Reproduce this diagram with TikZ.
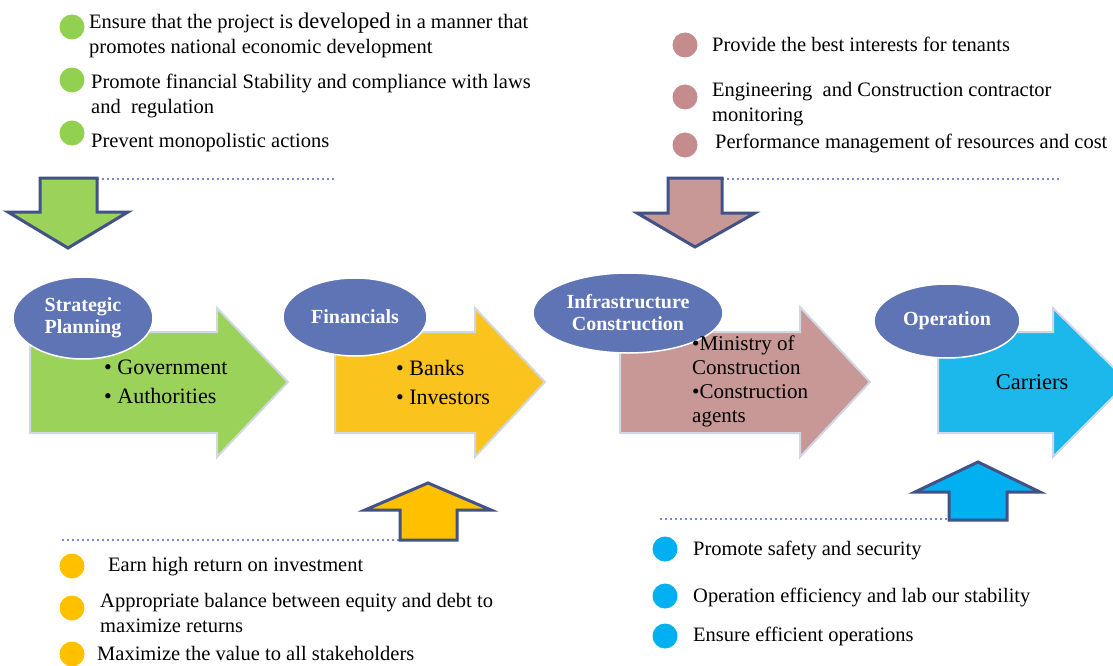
\documentclass[tikz,border=0pt]{standalone}
\usepackage{fontspec}
\setmainfont{Liberation Serif}
\usepackage{tikz}
\usetikzlibrary{shapes.geometric}

\definecolor{stageblue}{RGB}{94,116,180}
\definecolor{plangreen}{RGB}{155,210,90}
\definecolor{dotgreen}{RGB}{146,208,80}
\definecolor{finyellow}{RGB}{250,195,30}
\definecolor{dotyellow}{RGB}{255,192,0}
\definecolor{buildpink}{RGB}{200,152,150}
\definecolor{dotpink}{RGB}{196,140,140}
\definecolor{opcyan}{RGB}{28,184,236}
\definecolor{dotcyan}{RGB}{0,176,240}
\definecolor{flowedge}{RGB}{208,216,230}
\definecolor{feededge}{RGB}{66,82,134}
\definecolor{sepblue}{RGB}{116,136,214}

\tikzset{
	stage/.style={ellipse, fill=stageblue, draw=white, line width=1.5pt, text=white,
		font=\bfseries\fontsize{20}{22}\selectfont, align=center, inner sep=0pt},
	flow/.style={draw=flowedge, line width=2pt, line join=miter},
	feed/.style={draw=feededge, line width=3pt, line join=miter},
	sep/.style={sepblue, line width=2pt, dash pattern=on 2pt off 3pt},
	note/.style={anchor=west, align=left, inner sep=0pt, font=\fontsize{20.5}{25}\selectfont},
	item/.style={anchor=west, align=left, inner sep=0pt, font=\fontsize{22}{29}\selectfont},
}

\begin{document}
\begin{tikzpicture}[x=1pt, y=-1pt]
		\useasboundingbox (0,0) rectangle (1113,666);
		\clip (0,0) rectangle (1113,666);
		% Separators
		\draw[sep] (97,179) -- (336,179);
		\draw[sep] (722,179) -- (1062,179);
		\draw[sep] (62,540) -- (420,540);
		\draw[sep] (660,519) -- (995,519);
		% Main flow arrows
		\filldraw[flow, fill=plangreen] (30,332) -- (217,332) -- (217,308) -- (288,382) -- (217,457) -- (217,433) -- (30,433) -- cycle;
		\filldraw[flow, fill=finyellow] (335,332) -- (475,332) -- (475,308) -- (545,382) -- (475,457) -- (475,433) -- (335,433) -- cycle;
		\filldraw[flow, fill=buildpink] (620,332) -- (800,332) -- (800,307) -- (870,382) -- (800,457) -- (800,433) -- (620,433) -- cycle;
		\filldraw[flow, fill=opcyan] (938,332) -- (1053,332) -- (1053,308) -- (1128,382) -- (1053,457) -- (1053,433) -- (938,433) -- cycle;
		% Input arrows
		\filldraw[feed, fill=plangreen] (40,178) -- (97,178) -- (97,212) -- (128,212) -- (68,248) -- (8,212) -- (40,212) -- cycle;
		\filldraw[feed, fill=buildpink] (668,178) -- (722,178) -- (722,213) -- (755,213) -- (695,247) -- (637,213) -- (668,213) -- cycle;
		\filldraw[feed, fill=dotyellow] (400,540) -- (457,540) -- (457,510) -- (491,510) -- (428,483) -- (365,510) -- (400,510) -- cycle;
		\filldraw[feed, fill=dotcyan] (949,520) -- (1007,520) -- (1007,492) -- (1040,492) -- (978,462) -- (915,492) -- (949,492) -- cycle;
		% Stages
		\node[stage, minimum width=140pt, minimum height=82pt] (plan) at (83,318) {Strategic\\Planning};
		\node[stage, minimum width=144pt, minimum height=78pt] (fin) at (355,317) {Financials};
		\node[stage, minimum width=190pt, minimum height=80pt] (infra) at (628,313) {Infrastructure\\Construction};
		\node[stage, minimum width=146pt, minimum height=74pt] (oper) at (947,321) {Operation};
		% Actors
		\node[item] (gov) at (104,382) {\textbullet\ Government\\\textbullet\ Authorities};
		\node[item] (bank) at (396,382) {\textbullet\ Banks\\\textbullet\ Investors};
		\node[item, font=\fontsize{21}{24}\selectfont] (ministry) at (692,381) {\textbullet Ministry of\\Construction\\\textbullet Construction\\agents};
		\node[font=\fontsize{22.5}{25}\selectfont, inner sep=0pt] (carrier) at (1032,382) {Carriers};
		% Government goals
		\fill[dotgreen] (72,27) circle (12.5pt);
		\fill[dotgreen] (72,80) circle (12.5pt);
		\fill[dotgreen] (72,133) circle (12.5pt);
		\node[note] (gov1) at (89,35) {Ensure that the project is {\fontsize{22.5}{25}\selectfont developed} in a manner that\\promotes national economic development};
		\node[note] (gov2) at (91,96) {Promote financial Stability and compliance with laws\\and \ regulation};
		\node[note] (gov3) at (91,143) {Prevent monopolistic actions};
		% Construction goals
		\fill[dotpink] (685,45) circle (12.5pt);
		\fill[dotpink] (685,97) circle (12.5pt);
		\fill[dotpink] (685,145) circle (12.5pt);
		\node[note] (con1) at (712,44) {Provide the best interests for tenants};
		\node[note] (con2) at (712,104) {Engineering \ and Construction contractor\\monitoring};
		\node[note] (con3) at (715,143) {Performance management of resources and cost};
		% Investor goals
		\fill[dotyellow] (72,566) circle (12.5pt);
		\fill[dotyellow] (72,608) circle (12.5pt);
		\fill[dotyellow] (72,654) circle (12.5pt);
		\node[note] (inv1) at (108,567) {Earn high return on investment};
		\node[note] (inv2) at (100,613) {Appropriate balance between equity and debt to\\maximize returns};
		\node[note] (inv3) at (97,653) {Maximize the value to all stakeholders};
		% Carrier goals
		\fill[dotcyan] (665,549) circle (12.5pt);
		\fill[dotcyan] (665,596) circle (12.5pt);
		\fill[dotcyan] (665,636) circle (12.5pt);
		\node[note] (car1) at (693,550) {Promote safety and security};
		\node[note] (car2) at (693,597) {Operation efficiency and lab our stability};
		\node[note] (car3) at (693,636) {Ensure efficient operations};
	\end{tikzpicture}
\end{document}
